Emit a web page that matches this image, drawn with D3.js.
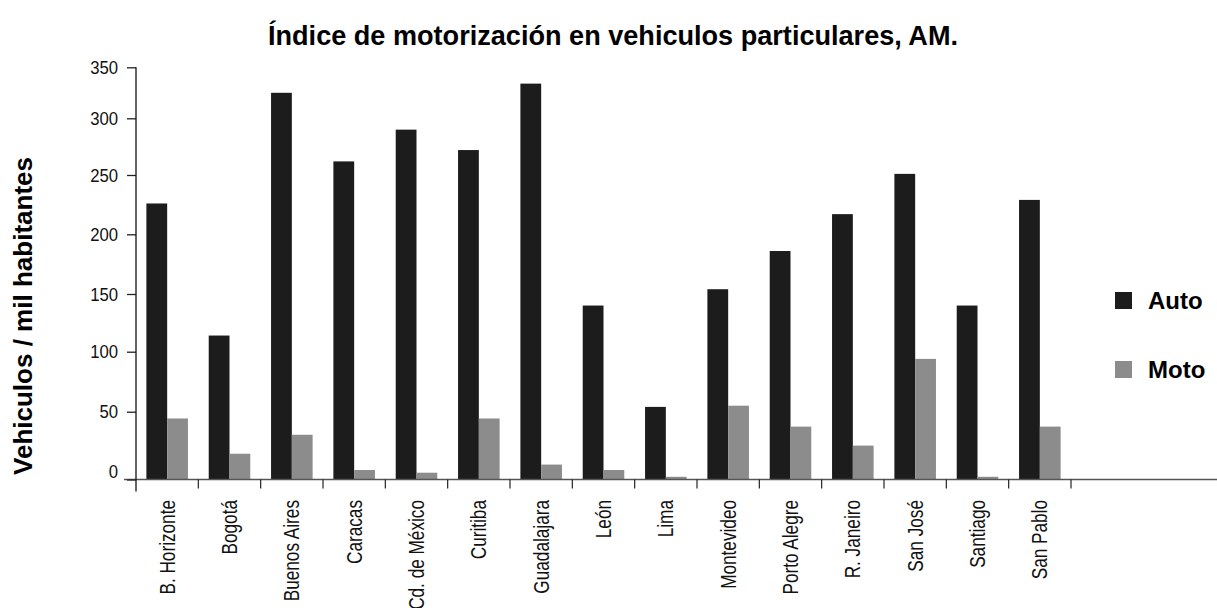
<!DOCTYPE html>
<html>
<head>
<meta charset="utf-8">
<script src="https://cdn.jsdelivr.net/npm/d3@7"></script>
<style>
  html, body { margin: 0; padding: 0; background: #fff; }
  svg { display: block; }
  text { font-family: "Liberation Sans", Arial, sans-serif; }
</style>
</head>
<body>
<svg id="chart" width="1217" height="608"></svg>
<script>
// Ciudades (áreas metropolitanas)
const cities = ["B. Horizonte", "Bogotá", "Buenos Aires", "Caracas", "Cd. de México",
  "Curitiba", "Guadalajara", "León", "Lima", "Montevideo", "Porto Alegre",
  "R. Janeiro", "San José", "Santiago", "San Pablo"];

// Vehículos por mil habitantes
const autoValues = [226, 114, 325, 262, 290, 272, 334, 140, 54, 154, 186, 217, 251, 140, 229];
const motoValues = [45, 19, 33, 7, 5, 45, 11, 7, 2, 55, 39, 25, 94, 2, 39];

const seriesNames = ["Auto", "Moto"];
const seriesColors = ["#1c1c1c", "#8c8c8c"];

const yTicks = [0, 50, 100, 150, 200, 250, 300, 350];
const yTickPixels = [479.5, 411.7, 351.7, 294, 234.3, 175, 118.3, 67.3];

const svg = d3.select("#chart");

const x0 = d3.scaleBand()
  .domain(cities)
  .range([136, 1071])
  .paddingInner(1 / 3)
  .paddingOuter(1 / 6);

const x1 = d3.scaleBand()
  .domain(seriesNames)
  .range([0, x0.bandwidth()]);

// value axis, calibrated per gridstep
const y = d3.scaleLinear().domain(yTicks).range(yTickPixels);

const color = d3.scaleOrdinal().domain(seriesNames).range(seriesColors);

const rows = cities.map((c, i) => ({ city: c, Auto: autoValues[i], Moto: motoValues[i] }));

// bars
const groups = svg.append("g").selectAll("g")
  .data(rows)
  .join("g")
  .attr("transform", d => `translate(${x0(d.city)},0)`);

groups.selectAll("rect")
  .data(d => seriesNames.map(k => ({ key: k, value: d[k] })))
  .join("rect")
  .attr("x", d => x1(d.key))
  .attr("width", x1.bandwidth())
  .attr("y", d => y(d.value))
  .attr("height", d => y(0) - y(d.value))
  .attr("fill", d => color(d.key));

// baseline
svg.append("line")
  .attr("x1", 124).attr("x2", 1217)
  .attr("y1", y(0)).attr("y2", y(0))
  .attr("stroke", "#555").attr("stroke-width", 1.5);

// category separators
const step = x0.step();
const sepX = d3.range(1, cities.length + 1).map(i => x0.range()[0] + i * step);
svg.append("g").selectAll("line")
  .data(sepX)
  .join("line")
  .attr("x1", d => d).attr("x2", d => d)
  .attr("y1", y(0)).attr("y2", y(0) + 9)
  .attr("stroke", "#222").attr("stroke-width", 1.2);

// y axis
const yAxis = svg.append("g")
  .attr("transform", "translate(136,0)")
  .call(d3.axisLeft(y).tickValues(yTicks).tickSize(9).tickFormat(""));
yAxis.select(".domain").remove();
yAxis.append("line")
  .attr("x1", 0).attr("x2", 0)
  .attr("y1", y(350)).attr("y2", y(0) + 12)
  .attr("stroke", "#111").attr("stroke-width", 1.3);
yAxis.selectAll(".tick line").attr("stroke", "#222").attr("stroke-width", 1.3);

// y tick labels in a narrow face
svg.append("g").selectAll("text")
  .data(yTicks)
  .join("text")
  .attr("transform", d => `translate(118,${y(d) + (d === 0 ? -1.5 : 6.5)}) scale(0.88,1)`)
  .attr("text-anchor", "end")
  .attr("font-size", 19)
  .attr("fill", "#111")
  .text(d => d);

// category labels
svg.append("g").selectAll("text")
  .data(cities)
  .join("text")
  .attr("transform", d => `translate(${x0(d) + x0.bandwidth() / 2 + 7.5},500) rotate(-90) scale(0.8,1)`)
  .attr("text-anchor", "end")
  .attr("font-size", 21.5)
  .attr("fill", "#111")
  .text(d => d);

// title
svg.append("text")
  .attr("x", 268).attr("y", 45)
  .attr("font-size", 27)
  .attr("font-weight", "bold")
  .attr("fill", "#000")
  .attr("textLength", 690)
  .attr("lengthAdjust", "spacingAndGlyphs")
  .text("Índice de motorización en vehiculos particulares, AM.");

// y axis title
svg.append("text")
  .attr("transform", "translate(32,475) rotate(-90)")
  .attr("font-size", 26)
  .attr("font-weight", "bold")
  .attr("fill", "#000")
  .attr("textLength", 318)
  .attr("lengthAdjust", "spacingAndGlyphs")
  .text("Vehiculos / mil habitantes");

// legend
const legend = svg.append("g").selectAll("g")
  .data(seriesNames)
  .join("g")
  .attr("transform", (d, i) => `translate(1115,${292 + i * 69})`);
legend.append("rect")
  .attr("width", 17).attr("height", 17)
  .attr("fill", d => color(d));
legend.append("text")
  .attr("x", 33).attr("y", 17)
  .attr("font-size", 24)
  .attr("font-weight", "bold")
  .attr("fill", "#000")
  .text(d => d);
</script>
</body>
</html>
